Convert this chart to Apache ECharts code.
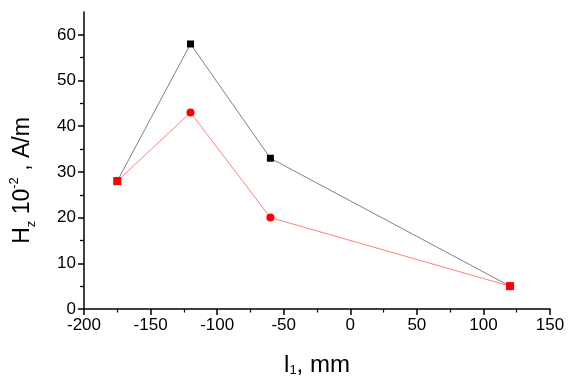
<!DOCTYPE html>
<html><head><meta charset="utf-8">
<script src="https://cdn.jsdelivr.net/npm/echarts@6/dist/echarts.min.js"></script>
<style>html,body{margin:0;padding:0;background:#fff}#c{width:574px;height:378px}</style>
</head><body><div id="c"></div>
<script>
var xValues = [-175, -120, -60, 120];
var blackSeries = [28, 58, 33, 5];
var redSeries = [28, 43, 20, 5];
var yTickLabels = [0, 10, 20, 30, 40, 50, 60];
var yMinorTicks = [5, 15, 25, 35, 45, 55];
var xTickLabels = [-200, -150, -100, -50, 0, 50, 100, 150];

function pairs(xs, ys){ return xs.map(function(x,i){ return [x, ys[i]]; }); }

var font = 'Liberation Sans, Arial, sans-serif';
var gridBox = {left:84, right:24, top:12, bottom:69, containLabel:false, outerBoundsMode:'none'};
var chart = echarts.init(document.getElementById('c'), null, {renderer:'canvas'});
chart.setOption({
  animation:false,
  grid:[Object.assign({}, gridBox), Object.assign({}, gridBox)],
  xAxis:[{
    type:'value', gridIndex:0, min:xTickLabels[0], max:xTickLabels[xTickLabels.length-1], interval:50,
    axisLine:{show:true, onZero:false, lineStyle:{color:'#000', width:1.5}},
    axisTick:{show:true, length:6, lineStyle:{color:'#000', width:1.5}},
    minorTick:{show:true, splitNumber:2, length:3.5, lineStyle:{color:'#000', width:1.2}},
    splitLine:{show:false},
    axisLabel:{color:'#000', fontSize:17, fontFamily:font, margin:8},
    name:'{a|l}{sub|1}{a|, mm}', nameLocation:'middle', nameGap:38,
    nameTextStyle:{rich:{
      a:{fontSize:24, fontFamily:font, color:'#000', verticalAlign:'bottom', lineHeight:30},
      sub:{fontSize:13, fontFamily:font, color:'#000', verticalAlign:'bottom', lineHeight:22}
    }}
  },{
    type:'value', gridIndex:1, min:0, max:350,
    axisLine:{show:false}, axisTick:{show:false}, axisLabel:{show:false}, splitLine:{show:false}
  }],
  yAxis:[{
    type:'value', gridIndex:0, min:0, max:65, interval:10,
    axisLine:{show:true, onZero:false, lineStyle:{color:'#000', width:1.5}},
    axisTick:{show:true, length:6, customValues:yTickLabels, lineStyle:{color:'#000', width:1.5}},
    axisLabel:{color:'#000', fontSize:17, fontFamily:font, margin:8, customValues:yTickLabels},
    splitLine:{show:false},
    name:'{a|H}{sub|z}{a| 10}{sup|-2}{a| , A/m}', nameLocation:'middle', nameGap:46, nameRotate:90,
    nameTextStyle:{padding:[0,40,0,0], rich:{
      a:{fontSize:23, fontFamily:font, color:'#000', verticalAlign:'middle', lineHeight:30},
      sub:{fontSize:13, fontFamily:font, color:'#000', verticalAlign:'bottom', lineHeight:22},
      sup:{fontSize:13, fontFamily:font, color:'#000', verticalAlign:'top', lineHeight:30}
    }}
  },{
    type:'value', gridIndex:1, min:0, max:65,
    axisLine:{show:false},
    axisTick:{show:true, length:4, customValues:yMinorTicks, lineStyle:{color:'#000', width:1.3}},
    axisLabel:{show:false},
    splitLine:{show:false}
  }],
  series:[{
    type:'line', xAxisIndex:0, yAxisIndex:0, data:pairs(xValues, blackSeries),
    symbol:'rect', symbolSize:7,
    lineStyle:{color:'#808080', width:1},
    itemStyle:{color:'#000'}
  },{
    type:'line', xAxisIndex:0, yAxisIndex:0, data:pairs(xValues, redSeries),
    symbol:function(v, p){ return (p.dataIndex===0 || p.dataIndex===xValues.length-1) ? 'rect' : 'circle'; },
    symbolSize:8,
    lineStyle:{color:'#ff8080', width:1},
    itemStyle:{color:'#ff0000'}
  }]
});
</script></body></html>
